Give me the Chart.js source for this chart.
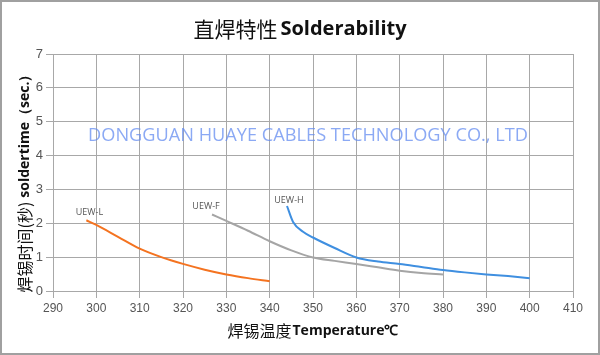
<!DOCTYPE html>
<html>
<head>
<meta charset="utf-8">
<script src="https://cdn.jsdelivr.net/npm/chart.js@4/dist/chart.umd.min.js"></script>
<style>
html,body{margin:0;padding:0;background:#fff;}
#wrap{width:600px;height:355px;position:relative;}
</style>
</head>
<body>
<div id="wrap"><canvas id="c" width="600" height="355"></canvas></div>
<script>
// ---- data ----
const chartTitleCJK = "直焊特性";
const chartTitleLatin = "Solderability";
const xTitleCJK = "焊锡温度";
const xTitleLatin = "Temperature℃";
const yTitleCJK = "焊锡时间(秒)";
const yTitleLatin = "soldertime（sec.）";
const watermark = "DONGGUAN HUAYE CABLES TECHNOLOGY CO., LTD";
const seriesNames = ["UEW-L", "UEW-F", "UEW-H"];
const seriesColors = ["#f47320", "#a5a5a5", "#3f8fe0"];

const tempL = [297.7, 300, 305, 310, 315, 320, 325, 330, 335, 340];
const timeL = [2.09, 1.95, 1.60, 1.25, 1.00, 0.80, 0.63, 0.49, 0.38, 0.29];

const tempF = [326.7, 330, 335, 340, 345, 350, 355, 360, 365, 370, 375, 380];
const timeF = [2.26, 2.07, 1.78, 1.47, 1.20, 0.99, 0.89, 0.80, 0.70, 0.60, 0.53, 0.49];

const tempH = [344, 345.4, 347.7, 350, 355, 360, 365, 370, 375, 380, 385, 390, 395, 400];
const timeH = [2.51, 2.04, 1.75, 1.58, 1.27, 0.99, 0.87, 0.80, 0.71, 0.62, 0.55, 0.49, 0.44, 0.38];

const xTicks = [290, 300, 310, 320, 330, 340, 350, 360, 370, 380, 390, 400, 410];
const yTicks = [0, 1, 2, 3, 4, 5, 6, 7];

// ---- build ----
function pts(xs, ys){ return xs.map((x,i)=>({x:x, y:ys[i]})); }
const seriesData = [pts(tempL,timeL), pts(tempF,timeF), pts(tempH,timeH)];

const datasets = seriesData.map((d,i)=>({
  label: seriesNames[i],
  data: d,
  showLine: true,
  borderColor: seriesColors[i],
  backgroundColor: seriesColors[i],
  borderWidth: 2,
  pointRadius: 0,
  cubicInterpolationMode: 'monotone',
  fill: false
}));

const GRID = "#a8a8a8";
const TICKFONT = {family: "'Liberation Sans', sans-serif", size: 12};

function drawMixed(ctx, cx, cy, parts){
  // parts: [{text, font}] drawn left-to-right centred at cx
  let total = 0;
  parts.forEach(p=>{ ctx.font = p.font; p.w = ctx.measureText(p.text).width; total += p.w + (p.gap||0); });
  let x = cx - total/2;
  ctx.textAlign = 'left';
  ctx.textBaseline = 'middle';
  parts.forEach(p=>{ ctx.font = p.font; ctx.fillText(p.text, x, cy); x += p.w + (p.gap||0); });
}

const decor = {
  id: 'decor',
  beforeDraw(chart){
    const ctx = chart.ctx;
    ctx.save();
    ctx.fillStyle = '#fff';
    ctx.fillRect(0,0,chart.width,chart.height);
    ctx.restore();
  },
  afterDatasetsDraw(chart){
    const ctx = chart.ctx;
    const xs = chart.scales.x, ys = chart.scales.y;
    const area = chart.chartArea;
    ctx.save();
    // title
    ctx.fillStyle = '#111';
    drawMixed(ctx, 300, 29, [
      {text: chartTitleCJK, font: "21px 'Noto Sans CJK SC'", gap: 3},
      {text: chartTitleLatin, font: "bold 20px 'Open Sans', 'Liberation Sans', sans-serif"}
    ]);
    // x title
    drawMixed(ctx, (area.left+area.right)/2, 331, [
      {text: xTitleCJK, font: "16px 'Noto Sans CJK SC'", gap: 1},
      {text: xTitleLatin, font: "bold 14px 'Open Sans', 'Liberation Sans', sans-serif"}
    ]);
    // y title
    ctx.save();
    ctx.translate(25, 180);
    ctx.rotate(-Math.PI/2);
    drawMixed(ctx, 0, 0, [
      {text: yTitleCJK, font: "16px 'Noto Sans CJK SC'", gap: 4},
      {text: yTitleLatin, font: "bold 14px 'Open Sans', 'Liberation Sans', sans-serif"}
    ]);
    ctx.restore();
    // watermark
    ctx.fillStyle = 'rgba(100,140,240,0.75)';
    let fs = 18;
    ctx.font = fs + "px 'Open Sans', sans-serif";
    const w = ctx.measureText(watermark).width;
    fs = fs * 440 / w;
    ctx.font = fs.toFixed(2) + "px 'Open Sans', sans-serif";
    ctx.textAlign = 'center';
    ctx.textBaseline = 'middle';
    ctx.fillText(watermark, (area.left+area.right)/2 - 5, 136);
    // series labels
    ctx.fillStyle = '#555';
    ctx.font = "9px 'Open Sans', 'Liberation Sans', sans-serif";
    ctx.textAlign = 'center';
    ctx.textBaseline = 'middle';
    const offs = [[3,-8],[-6,-8],[2,-6]];
    seriesData.forEach((d,i)=>{
      const px = xs.getPixelForValue(d[0].x), py = ys.getPixelForValue(d[0].y);
      ctx.fillText(seriesNames[i], px + offs[i][0], py + offs[i][1]);
    });
    // outer border
    ctx.strokeStyle = '#a0a0a0';
    ctx.lineWidth = 2;
    ctx.strokeRect(1,1,chart.width-2,chart.height-2);
    ctx.restore();
  }
};

new Chart(document.getElementById('c'), {
  type: 'scatter',
  data: {datasets},
  options: {
    responsive: false,
    animation: false,
    devicePixelRatio: 1,
    layout: {padding: {top: 54, right: 27, left: 0, bottom: 0}},
    plugins: {legend: {display: false}, title: {display: false}, tooltip: {enabled: false}},
    scales: {
      x: {
        type: 'linear',
        min: xTicks[0], max: xTicks[xTicks.length-1],
        afterBuildTicks(s){ s.ticks = xTicks.map(v=>({value:v})); },
        afterFit(s){ s.height = 64; },
        grid: {color: GRID, lineWidth: 1, tickLength: 7, drawTicks: true},
        border: {color: GRID, width: 1},
        ticks: {color: '#555', font: TICKFONT, padding: 3, maxRotation: 0, autoSkip: false}
      },
      y: {
        type: 'linear',
        min: yTicks[0], max: yTicks[yTicks.length-1],
        afterBuildTicks(s){ s.ticks = yTicks.map(v=>({value:v})); },
        afterFit(s){ s.width = 53; },
        grid: {color: GRID, lineWidth: 1, tickLength: 7, drawTicks: true},
        border: {color: GRID, width: 1},
        ticks: {color: '#555', font: {family: "'Liberation Sans', sans-serif", size: 13}, padding: 3, autoSkip: false}
      }
    }
  },
  plugins: [decor]
});
</script>
</body>
</html>
